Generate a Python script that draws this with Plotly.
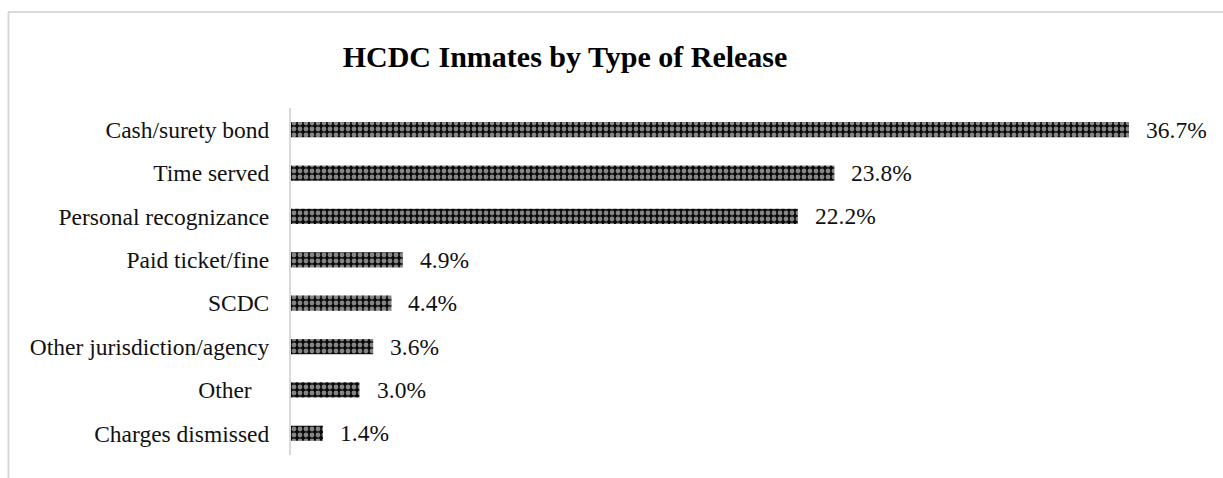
import plotly.graph_objects as go

categories = ["Cash/surety bond", "Time served", "Personal recognizance", "Paid ticket/fine",
              "SCDC", "Other jurisdiction/agency", "Other\u00a0\u00a0\u00a0", "Charges dismissed"]
values = [36.7, 23.8, 22.2, 4.9, 4.4, 3.6, 3.0, 1.4]
title_text = "HCDC Inmates by Type of Release"

W, H = 1223, 478
ML, MR, MT, MB = 291, 23, 108, 23
pw, ph = W - ML - MR, H - MT - MB
FONT = "Liberation Serif"

fig = go.Figure()
fig.add_trace(go.Bar(
    x=values, y=categories, orientation="h",
    marker=dict(color="black", line=dict(width=0),
                pattern=dict(shape=".", fgcolor="white", bgcolor="#0a0a0a", size=6, solidity=0.5)),
    hoverinfo="skip",
))

annotations = []
for c, v in zip(categories, values):
    annotations.append(dict(x=v, y=c, xref="x", yref="y", text=f"{v:.1f}%", showarrow=False,
                            xanchor="left", yanchor="middle", xshift=15,
                            font=dict(family=FONT, size=23.5, color="#111")))

def px_x(p):
    return (p - ML) / pw

def px_y(p):
    return (H - MB - p) / ph

shapes = [
    dict(type="line", xref="paper", yref="paper", x0=px_x(8.5), x1=px_x(8.5), y0=px_y(12), y1=px_y(H + 2),
         line=dict(color="#d9d9d9", width=2)),
    dict(type="line", xref="paper", yref="paper", x0=px_x(8), x1=px_x(W + 2), y0=px_y(12), y1=px_y(12),
         line=dict(color="#d9d9d9", width=2)),
]

fig.update_layout(
    width=W, height=H,
    margin=dict(l=ML, r=MR, t=MT, b=MB),
    paper_bgcolor="white", plot_bgcolor="white",
    font=dict(family=FONT),
    title=dict(text=f"<b>{title_text}</b>", x=565 / W, xanchor="center", xref="container",
               y=1 - 56 / H, yanchor="middle", yref="container",
               font=dict(family=FONT, size=30, color="black")),
    bargap=0.65,
    showlegend=False,
    annotations=annotations,
    shapes=shapes,
    xaxis=dict(range=[0, pw / (838 / 36.7)], visible=False, fixedrange=True),
    yaxis=dict(autorange="reversed", showline=True, linecolor="#d9d9d9", linewidth=2,
               ticks="", ticklabelstandoff=15, showgrid=False, zeroline=False,
               tickfont=dict(family=FONT, size=23.5, color="#111")),
)

fig.write_html("out.html")
